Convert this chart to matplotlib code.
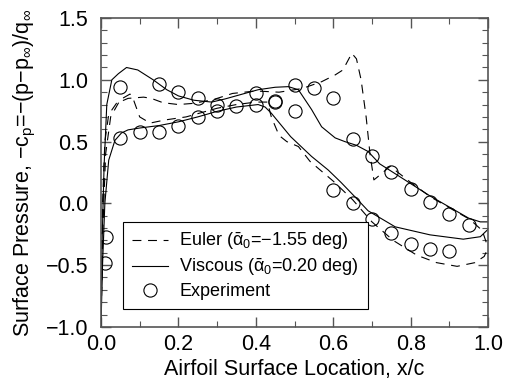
import matplotlib
matplotlib.use("Agg")
import matplotlib.pyplot as plt
from matplotlib.ticker import MultipleLocator, FuncFormatter

plt.rcParams["font.family"] = ["Liberation Sans", "DejaVu Sans"]
plt.rcParams["mathtext.fontset"] = "custom"
plt.rcParams["mathtext.rm"] = "Liberation Sans"
plt.rcParams["mathtext.it"] = "Liberation Sans"
plt.rcParams["mathtext.bf"] = "Liberation Sans:bold"

# Euler, upper surface
euler_up_x = [0.0, 0.004, 0.01, 0.02, 0.04, 0.07, 0.11, 0.13, 0.16, 0.2, 0.24, 0.29, 0.34,
              0.4, 0.46, 0.52, 0.57, 0.605, 0.625, 0.648, 0.66, 0.672, 0.685, 0.695, 0.705,
              0.713, 0.747, 0.8, 0.85, 0.9, 0.953, 0.985, 1.0]
euler_up_y = [-1.0, 0.0, 0.5, 0.72, 0.81, 0.85, 0.86, 0.85, 0.815, 0.80, 0.81, 0.84, 0.89,
              0.91, 0.90, 0.93, 0.985, 1.04, 1.08, 1.215, 1.17, 1.0, 0.7, 0.4, 0.19,
              0.21, 0.30, 0.17, 0.055, -0.036, -0.13, -0.22, -0.36]

# Euler, lower surface
euler_lo_x = [0.0, 0.005, 0.012, 0.025, 0.05, 0.075, 0.085, 0.1, 0.127, 0.165, 0.22, 0.3,
              0.35, 0.4, 0.43, 0.44, 0.46, 0.48, 0.51, 0.54, 0.6, 0.65, 0.7, 0.755, 0.816,
              0.867, 0.92, 0.966, 0.99, 1.0]
euler_lo_y = [-1.0, -0.2, 0.4, 0.7, 0.84, 0.885, 0.83, 0.70, 0.65, 0.675, 0.70, 0.77,
              0.80, 0.82, 0.82, 0.70, 0.55, 0.50, 0.46, 0.34, 0.18, 0.03, -0.15, -0.30, -0.42,
              -0.48, -0.51, -0.48, -0.43, -0.36]

# Viscous, upper surface
visc_up_x = [0.0, 0.003, 0.008, 0.015, 0.028, 0.045, 0.066, 0.095, 0.135, 0.17, 0.2, 0.24,
             0.286, 0.32, 0.36, 0.406, 0.45, 0.484, 0.51, 0.544, 0.57, 0.605, 0.63, 0.66,
             0.69, 0.72, 0.76, 0.81, 0.85, 0.9, 0.95, 0.98, 1.0]
visc_up_y = [-1.0, -0.3, 0.3, 0.8, 1.0, 1.05, 1.10, 1.08, 1.0, 0.92, 0.87, 0.835,
             0.82, 0.845, 0.88, 0.92, 0.94, 0.945, 0.92, 0.76, 0.62, 0.53, 0.50, 0.47,
             0.42, 0.32, 0.24, 0.14, 0.06, -0.03, -0.12, -0.15, -0.15]

# Viscous, lower surface
visc_lo_x = [0.0, 0.004, 0.01, 0.02, 0.036, 0.053, 0.07, 0.1, 0.15, 0.2, 0.25, 0.3, 0.35,
             0.406, 0.424, 0.44, 0.49, 0.544, 0.587, 0.62, 0.66, 0.69, 0.76, 0.85, 0.936,
             0.98, 1.0]
visc_lo_y = [-1.0, -0.5, 0.0, 0.35, 0.51, 0.57, 0.595, 0.61, 0.63, 0.66, 0.70, 0.745, 0.78,
             0.80, 0.78, 0.73, 0.54, 0.38, 0.27, 0.17, 0.04, -0.06, -0.19, -0.255, -0.29,
             -0.27, -0.21]

# Experiment
exp_x = [0.05, 0.15, 0.20, 0.25, 0.30, 0.40, 0.45, 0.50, 0.55, 0.60, 0.65, 0.70, 0.75,
         0.80, 0.85, 0.90, 0.95,
         0.012, 0.01, 0.05, 0.10, 0.15, 0.20, 0.25, 0.30, 0.35, 0.40, 0.45, 0.50, 0.60,
         0.65, 0.70, 0.75, 0.80, 0.85, 0.90]
exp_y = [0.94, 0.97, 0.90, 0.85, 0.80, 0.89, 0.83, 0.96, 0.93, 0.85, 0.52, 0.38, 0.25,
         0.12, 0.01, -0.085, -0.175,
         -0.27, -0.48, 0.53, 0.58, 0.58, 0.63, 0.70, 0.75, 0.79, 0.80, 0.82, 0.75, 0.11,
         0.00, -0.13, -0.24, -0.33, -0.37, -0.385]


def _fmt(v, pos):
    return f"{v:.1f}".replace("-", "\u2212")


fig = plt.figure(figsize=(5.1, 3.85), dpi=100)
ax = fig.add_axes([0.198, 0.151, 0.759, 0.802])

dash = (0, (8, 6))
lw = 0.8
ax.plot(euler_up_x, euler_up_y, color="black", lw=lw, linestyle=dash,
        label=r"Euler ($\bar{\alpha}_0$=$-$1.55 deg)")
ax.plot(euler_lo_x, euler_lo_y, color="black", lw=lw, linestyle=dash)
ax.plot(visc_up_x, visc_up_y, color="black", lw=lw,
        label=r"Viscous ($\bar{\alpha}_0$=0.20 deg)")
ax.plot(visc_lo_x, visc_lo_y, color="black", lw=lw)
ax.plot(exp_x, exp_y, linestyle="none", marker="o", markersize=9.5,
        markerfacecolor="none", markeredgecolor="black", markeredgewidth=0.8,
        label="Experiment")

ax.set_xlim(0, 1.0)
ax.set_ylim(-1.0, 1.5)
ax.xaxis.set_major_locator(MultipleLocator(0.2))
ax.xaxis.set_minor_locator(MultipleLocator(0.1))
ax.yaxis.set_major_locator(MultipleLocator(0.5))
ax.yaxis.set_minor_locator(MultipleLocator(0.1))
ax.xaxis.set_major_formatter(FuncFormatter(_fmt))
ax.yaxis.set_major_formatter(FuncFormatter(_fmt))
ax.tick_params(which="both", direction="in", top=True, right=True, color="#555555")
ax.tick_params(which="major", length=7, width=1, labelsize=15.5)
ax.tick_params(which="minor", length=4, width=0.8)
ax.tick_params(axis="x", which="major", pad=5)
ax.tick_params(axis="y", which="major", pad=9)
for s in ax.spines.values():
    s.set_color("#555555")
    s.set_linewidth(1.2)

ax.set_xlabel("Airfoil Surface Location, x/c", fontsize=15.5, labelpad=3)
ax.set_ylabel(r"Surface Pressure, $-$c$_p$=$-$(p$-$p$_\infty$)/q$_\infty$",
              fontsize=15.5, labelpad=6)

leg = ax.legend(loc="lower left", bbox_to_anchor=(0.057, 0.058), fontsize=13,
                frameon=True, fancybox=False, edgecolor="black", framealpha=1,
                handlelength=2.0, labelspacing=0.25, borderpad=0.5, handletextpad=0.6,
                borderaxespad=0)
leg.get_frame().set_linewidth(0.8)

fig.savefig("out.png", dpi=100)
